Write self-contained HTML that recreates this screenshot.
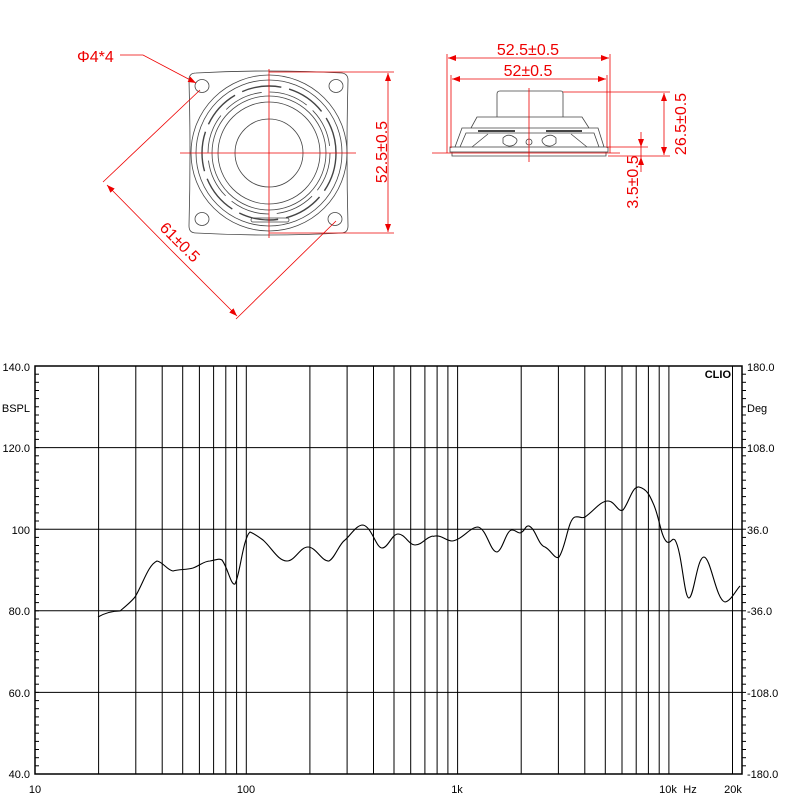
<!DOCTYPE html>
<html><head><meta charset="utf-8"><style>
html,body{margin:0;padding:0;background:#fff;}
svg{display:block;}
text{font-family:"Liberation Sans",sans-serif;}
</style></head><body>
<svg width="800" height="800" viewBox="0 0 800 800" xmlns="http://www.w3.org/2000/svg">
<defs>
<marker id="ar" markerWidth="8" markerHeight="6" refX="8" refY="3" orient="auto" markerUnits="userSpaceOnUse"><path d="M0,0 L8,3 L0,6 z" fill="#e00"/></marker>
</defs>
<!-- FRONT VIEW -->
<g fill="none" stroke="#444" stroke-width="0.8">
<path d="M196,73 Q269,69 342,73 Q348,74 348,80 Q346,153 348,226 Q348,233 341,233 Q269,237 196,233 Q189,233 189,226 Q191,153 189,80 Q189,73 196,73 z"/>
<circle cx="269" cy="153" r="78"/>
<circle cx="269" cy="153" r="73"/>
<circle cx="269" cy="153" r="67" stroke-width="1.4" stroke-dasharray="40 8"/>
<circle cx="269" cy="153" r="61" stroke-dasharray="40 8"/>
<circle cx="269" cy="153" r="57"/>
<circle cx="269" cy="153" r="51"/>
<circle cx="269" cy="153" r="34"/>
<ellipse cx="202" cy="86" rx="7" ry="6.5"/>
<ellipse cx="336" cy="86" rx="7" ry="6.5"/>
<ellipse cx="202" cy="219" rx="7" ry="6.5"/>
<ellipse cx="335" cy="219" rx="7" ry="6.5"/>
<rect x="251" y="218" width="38" height="4" rx="2"/>
</g>
<g stroke="#e00" stroke-width="0.8" fill="none">
<line x1="180" y1="153" x2="356" y2="153"/>
<line x1="269" y1="69" x2="269" y2="238"/>
<line x1="269" y1="72" x2="394" y2="72"/>
<line x1="269" y1="233" x2="394" y2="233"/>
<line x1="388" y1="152" x2="388" y2="73" marker-end="url(#ar)"/>
<line x1="388" y1="152" x2="388" y2="232" marker-end="url(#ar)"/>
<polyline points="120,55 143,55 196,83" marker-end="url(#ar)"/>
<line x1="200" y1="90" x2="103" y2="182"/>
<line x1="336" y1="221" x2="236" y2="319"/>
<line x1="170" y1="249" x2="107" y2="185" marker-end="url(#ar)"/>
<line x1="170" y1="249" x2="237" y2="316" marker-end="url(#ar)"/>
</g>
<text x="77" y="62" fill="#e00" font-size="16">Φ4*4</text>
<text x="0" y="0" fill="#e00" font-size="16" text-anchor="middle" transform="translate(387,152) rotate(-90)">52.5±0.5</text>
<text x="0" y="0" fill="#e00" font-size="16" text-anchor="middle" transform="translate(176,246) rotate(45)">61±0.5</text>
<!-- SIDE VIEW -->
<g fill="none" stroke="#444" stroke-width="0.8">
<path d="M497,117 L497,94 Q497,91 500,91 L561,91 Q563,91 563,94 L563,117"/>
<path d="M471,128 L477,117 L582,117 L589,128"/>
<path d="M455,147 L462,128 L598,128 L604,147"/>
<path d="M460,147 L466,133 L594,133 L599,147"/>
<rect x="450" y="147" width="158" height="5"/>
<path d="M452,152 L452,156 L606,156 L606,152"/>
<path d="M478,131 L515,131 M546,131 L582,131" stroke-width="2"/>
<path d="M503,138 Q508,133 514,137 Q520,140 514,145 Q508,148 503,143 z"/>
<path d="M556,138 Q551,133 545,137 Q539,140 545,145 Q551,148 556,143 z"/>
<circle cx="529" cy="142" r="3"/>
<path d="M472,147 L488,134 M587,147 L571,134"/>
</g>
<g stroke="#e00" stroke-width="0.8" fill="none">
<line x1="447" y1="54" x2="447" y2="153"/>
<line x1="610" y1="54" x2="610" y2="153"/>
<line x1="451" y1="75" x2="451" y2="148"/>
<line x1="607" y1="75" x2="607" y2="148"/>
<line x1="528" y1="58" x2="448" y2="58" marker-end="url(#ar)"/>
<line x1="528" y1="58" x2="609" y2="58" marker-end="url(#ar)"/>
<line x1="528" y1="79" x2="452" y2="79" marker-end="url(#ar)"/>
<line x1="528" y1="79" x2="606" y2="79" marker-end="url(#ar)"/>
<line x1="529" y1="88" x2="529" y2="162"/>
<line x1="432" y1="153" x2="620" y2="153"/>
<line x1="563" y1="92" x2="670" y2="92"/>
<line x1="608" y1="156" x2="670" y2="156"/>
<line x1="608" y1="147" x2="648" y2="147"/>
<line x1="664" y1="124" x2="664" y2="93" marker-end="url(#ar)"/>
<line x1="664" y1="124" x2="664" y2="155" marker-end="url(#ar)"/>
<line x1="641" y1="132" x2="641" y2="147" marker-end="url(#ar)"/>
<line x1="641" y1="172" x2="641" y2="157" marker-end="url(#ar)"/>
<line x1="641" y1="157" x2="641" y2="147"/>
</g>
<text x="528" y="55" fill="#e00" font-size="16" text-anchor="middle">52.5±0.5</text>
<text x="528" y="76" fill="#e00" font-size="16" text-anchor="middle">52±0.5</text>
<text x="0" y="0" fill="#e00" font-size="16" text-anchor="middle" transform="translate(686,124) rotate(-90)">26.5±0.5</text>
<text x="0" y="0" fill="#e00" font-size="16" text-anchor="middle" transform="translate(638,182) rotate(-90)">3.5±0.5</text>
<!-- CHART -->
<g id="grid" stroke="#000" stroke-width="1"></g>
<rect x="35" y="366" width="707" height="408" fill="none" stroke="#000" stroke-width="1.5"/>
<g id="ticks" stroke="#000" stroke-width="1"></g>
<text x="745" y="378" font-size="11" font-weight="bold" text-anchor="end" dx="-14">CLIO</text>
<g font-size="11" fill="#000">
<text x="30" y="371" text-anchor="end">140.0</text>
<text x="30" y="412" text-anchor="end">BSPL</text>
<text x="30" y="452" text-anchor="end">120.0</text>
<text x="30" y="534" text-anchor="end">100</text>
<text x="30" y="615" text-anchor="end">80.0</text>
<text x="30" y="697" text-anchor="end">60.0</text>
<text x="30" y="778" text-anchor="end">40.0</text>
<text x="747" y="371">180.0</text>
<text x="747" y="412">Deg</text>
<text x="747" y="452">108.0</text>
<text x="747" y="534">36.0</text>
<text x="747" y="615">-36.0</text>
<text x="747" y="697">-108.0</text>
<text x="747" y="778">-180.0</text>
<text x="35" y="793" text-anchor="middle">10</text>
<text x="246" y="793" text-anchor="middle">100</text>
<text x="457" y="793" text-anchor="middle">1k</text>
<text x="668" y="793" text-anchor="middle">10k</text>
<text x="690" y="793" text-anchor="middle">Hz</text>
<text x="733" y="793" text-anchor="middle">20k</text>
</g>
<path fill="none" stroke="#000" stroke-width="1.1" d="M98,617 C105,613 112,611 120,611 C126,606 131,602 135,597 C143,584 148,565 157,561 C163,562 167,570 173,571 C180,569 186,570 193,568 C199,566 204,561 210,561 C216,560 219,558 222,560 C228,568 231,586 235,584 C240,575 243,538 250,532 C255,534 259,537 263,540 C272,548 278,561 287,561 C295,561 300,547 308,547 C316,547 322,562 329,561 C335,558 339,544 345,540 C351,535 356,525 363,525 C372,527 376,548 382,548 C388,548 392,534 398,534 C405,534 409,545 415,545 C421,545 425,539 430,537 C434,535 431,537 435,536 C442,535 446,541 452,541 C462,540 470,527 478,527 C487,529 490,552 497,552 C503,550 506,530 512,530 C516,530 517,533 520,533 C525,532 525,525 529,526 C536,529 538,545 545,547 C551,550 555,560 559,557 C566,547 568,519 575,517 C580,516 582,519 585,517 C594,511 600,501 608,501 C615,501 618,513 623,510 C629,503 632,486 639,487 C647,489 650,496 653,503 C659,515 661,538 667,542 C671,544 672,537 675,540 C682,551 684,598 689,598 C694,597 697,557 704,557 C711,558 716,600 725,602 C731,601 736,590 740,586"/>
</svg>
<script>
(function(){
var g=document.getElementById('grid'),t=document.getElementById('ticks'),ns='http://www.w3.org/2000/svg';
function L(p,x1,y1,x2,y2){var l=document.createElementNS(ns,'line');l.setAttribute('x1',x1);l.setAttribute('y1',y1);l.setAttribute('x2',x2);l.setAttribute('y2',y2);p.appendChild(l);}
var d=211.3;
[1,10,100,1000].forEach(function(m){for(var k=2;k<=9;k++){var f=m*k;if(f>2000)return;var x=35+d*Math.log10(f);L(g,x.toFixed(1),366,x.toFixed(1),774);}
 if(m<1000){var x=35+d*Math.log10(m*10);L(g,x.toFixed(1),366,x.toFixed(1),774);}});
[447.6,529.2,610.8,692.4].forEach(function(y){L(g,35,y,742,y);});
for(var i=1;i<50;i++){var y=366+i*8.16;L(t,35,y.toFixed(1),39,y.toFixed(1));L(t,742,y.toFixed(1),746,y.toFixed(1));}
})();
</script>
</body></html>
